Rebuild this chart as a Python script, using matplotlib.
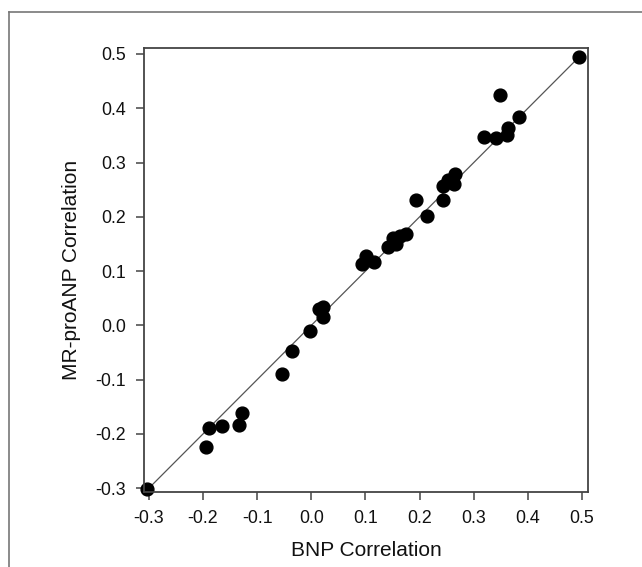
import matplotlib
matplotlib.use("Agg")
import matplotlib.pyplot as plt
from matplotlib.lines import Line2D

plt.rcParams['font.family'] = ['Liberation Sans', 'DejaVu Sans']

# BNP vs MR-proANP correlations
bnp = [-0.303, -0.194, -0.189, -0.165, -0.133, -0.128, -0.054, -0.035, -0.002,
       0.015, 0.022, 0.022, 0.094, 0.101, 0.115, 0.141, 0.150, 0.157, 0.163,
       0.174, 0.194, 0.213, 0.243, 0.244, 0.252, 0.263, 0.265, 0.319, 0.341,
       0.348, 0.361, 0.363, 0.383, 0.494]
mrpro = [-0.302, -0.225, -0.190, -0.185, -0.183, -0.162, -0.089, -0.048, -0.011,
         0.031, 0.033, 0.015, 0.113, 0.127, 0.116, 0.144, 0.161, 0.149, 0.164,
         0.168, 0.231, 0.201, 0.231, 0.256, 0.268, 0.260, 0.279, 0.347, 0.345,
         0.424, 0.351, 0.363, 0.384, 0.494]
ticks = [-0.3, -0.2, -0.1, 0.0, 0.1, 0.2, 0.3, 0.4, 0.5]

fig = plt.figure(figsize=(6.42, 5.67), dpi=100)
ax = fig.add_axes([0.2243, 0.1323, 0.6916, 0.783])

ax.plot([-0.3, 0.5], [-0.3, 0.5], color='#555555', lw=0.9, zorder=1)
ax.scatter(bnp, mrpro, s=85, color='black', zorder=2, clip_on=False)

ax.set_xlim(-0.309, 0.511)
ax.set_ylim(-0.307, 0.511)
ax.set_xticks(ticks)
ax.set_yticks(ticks)
ax.set_xticklabels(['%.1f' % t for t in ticks])
ax.set_yticklabels(['%.1f' % t for t in ticks])
ax.tick_params(direction='out', length=6, width=1.1, labelsize=12.8, pad=7,
               color='#444444', labelcolor='#111111')
for sp in ax.spines.values():
    sp.set_color('#444444')
    sp.set_linewidth(1.3)

ax.set_xlabel('BNP Correlation', fontsize=15, labelpad=10, color='#111111')
ax.set_ylabel('MR-proANP Correlation', fontsize=15, labelpad=10, color='#111111')

# outer frame (top and left edges visible)
fx = 9 / 642
fy = 1 - 12 / 567
fig.add_artist(Line2D([fx, 1.0], [fy, fy], color='#777777', lw=1.2))
fig.add_artist(Line2D([fx, fx], [0.0, fy], color='#777777', lw=1.2))

fig.savefig('out.png', dpi=100)
